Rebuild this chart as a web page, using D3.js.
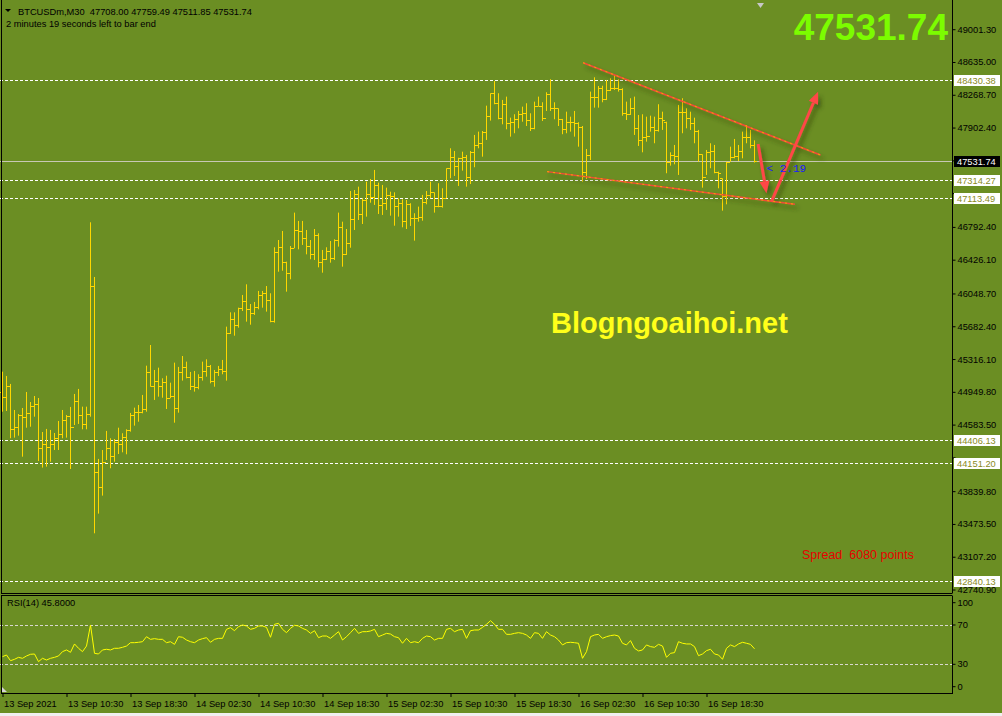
<!DOCTYPE html>
<html>
<head>
<meta charset="utf-8">
<script src="https://cdn.jsdelivr.net/npm/d3@7"></script>
<style>
html, body { margin: 0; padding: 0; background: #6b8e23; overflow: hidden; }
text { font-family: "Liberation Sans", Arial, sans-serif; }
</style>
</head>
<body>
<div id="chart"></div>
<script>
// BTCUSDm M30 bars (first bar = 13 Sep 2021 02:30)
var barOpen = [
44950,44896,45012,44531,44554,44691,44665,44710,44788,44811,
44319,44364,44337,44364,44431,44476,44635,44676,44554,44851,
44691,44587,44702,46136,44058,43884,44169,44319,44236,44393,
44364,44442,44520,44688,44721,44721,44755,45168,45019,45075,
45012,45057,44878,44907,44766,45168,45224,45119,45015,45007,
45119,45183,45239,45068,45175,45202,45183,45604,45760,45700,
45883,45962,45872,45827,45901,46032,46051,45976,45745,46516,
46572,46397,46281,46554,46758,46747,46665,46579,46486,46702,
46404,46431,46524,46449,46646,46795,46486,46609,46878,47157,
46937,47093,47157,47131,47261,47038,47057,47150,47142,47030,
47057,46859,47049,46889,46896,46907,47068,47150,47179,47030,
47026,47112,47448,47577,47473,47559,47577,47354,47633,47708,
47727,47850,48035,48286,48174,48006,48163,47957,47962,47995,
48051,48062,47987,47901,48140,48147,48006,48274,48118,48118,
47995,47883,47968,47968,47950,47913,47410,47596,48248,48248,
48341,48222,48323,48348,48341,48330,48069,48051,48118,47894,
47764,47801,47808,47913,47876,48006,47968,47521,47596,47588,
48080,48080,48013,47950,47868,47604,47354,47626,47641,47403,
47336,47142,47521,47577,47588,47641,47801,47801,47708.00];

var barHigh = [
45175,45127,45038,44747,44702,44769,44948,44836,44903,44881,
44501,44535,44524,44490,44624,44747,44691,44781,44926,44982,
44784,44784,46844,46233,44200,44300,44513,44431,44423,44549,
44487,44531,44714,44773,44803,44915,45242,45473,45194,45220,
45101,45130,45052,45276,45228,45350,45287,45172,45183,45146,
45287,45313,45250,45194,45239,45306,45678,45838,45838,45890,
46032,46151,45931,45954,46077,46077,46132,46051,46565,46646,
46747,46404,46579,46952,46859,46859,46758,46646,46769,46721,
46535,46565,46635,46654,46952,46851,46769,47194,47205,47242,
47112,47298,47328,47429,47287,47261,47231,47186,47179,47112,
47101,47093,47057,46945,47019,47150,47194,47298,47179,47280,
47224,47448,47671,47641,47565,47633,47596,47641,47820,47857,
47864,48147,48286,48423,48286,48211,48248,48013,48051,48088,
48136,48174,48062,48192,48248,48185,48297,48442,48185,48118,
47999,48080,48024,48088,47962,47920,47663,48304,48464,48367,
48370,48434,48453,48490,48442,48341,48192,48230,48248,48043,
48051,48024,48035,48024,48163,48080,47968,47626,47708,48155,
48230,48118,48080,48013,47876,47604,47652,47727,47708,47410,
47336,47521,47689,47775,47708,47857,47931,47876,47759.49];

var barLow = [
44728,44736,44431,44438,44460,44225,44549,44560,44672,44177,
44103,44114,44169,44300,44300,44431,44438,44088,44579,44591,
44531,44531,44672,43369,43589,43790,44188,44096,44169,44255,
44274,44252,44505,44572,44616,44710,44728,45007,44859,44896,
44884,44758,44878,44605,44717,45075,45101,44970,44952,44978,
45075,45119,45045,45007,45127,45146,45075,45596,45577,45667,
45853,45734,45700,45809,45872,45890,45846,45727,45723,46292,
46303,46069,46207,46554,46542,46591,46486,46431,46423,46341,
46281,46423,46393,46423,46572,46348,46479,46560,46758,46870,
46825,46907,47063,47038,46937,46926,46982,46918,46806,46907,
46788,46769,46803,46639,46851,46862,47045,47112,46952,47012,
47008,47112,47336,47362,47250,47421,47242,47272,47459,47671,
47577,47764,47980,48163,47995,47939,47883,47801,47839,47894,
47968,47920,47864,47883,48136,47976,48088,48088,47995,47920,
47828,47839,47857,47801,47689,47298,47328,47540,48125,48125,
48185,48210,48311,48323,48304,48035,47987,48043,47820,47697,
47626,47745,47857,47727,47857,47876,47392,47477,47492,47373,
47839,47894,47876,47727,47521,47231,47373,47448,47392,47224,
46974,47045,47521,47559,47529,47559,47727,47671,47511.85];

var barClose = [
44896,45012,44531,44554,44691,44665,44710,44788,44811,44319,
44364,44337,44364,44431,44476,44635,44676,44554,44851,44691,
44587,44702,46136,44058,43884,44169,44319,44236,44393,44364,
44442,44520,44688,44721,44721,44755,45168,45019,45075,45012,
45057,44878,44907,44766,45168,45224,45119,45015,45007,45119,
45183,45239,45068,45175,45202,45183,45604,45760,45700,45883,
45962,45872,45827,45901,46032,46051,45976,45745,46516,46572,
46397,46281,46554,46758,46747,46665,46579,46486,46702,46404,
46431,46524,46449,46646,46795,46486,46609,46878,47157,46937,
47093,47157,47131,47261,47038,47057,47150,47142,47030,47057,
46859,47049,46889,46896,46907,47068,47150,47179,47030,47026,
47112,47448,47577,47473,47559,47577,47354,47633,47708,47727,
47850,48035,48286,48174,48006,48163,47957,47962,47995,48051,
48062,47987,47901,48140,48147,48006,48274,48118,48118,47995,
47883,47968,47968,47950,47913,47410,47596,48248,48248,48341,
48222,48323,48348,48341,48330,48069,48051,48118,47894,47764,
47801,47808,47913,47876,48006,47987,47521,47596,47588,48080,
48080,48013,47950,47868,47604,47354,47626,47641,47403,47392,
47142,47514,47577,47588,47641,47801,47801,47708,47531.74];

// RSI(14) per bar
var rsiValues = [
37.8,39.5,33.7,35.1,37.1,36.1,38.5,40.2,40.5,32.7,
36.1,34.4,36.1,37.1,38.5,42.9,44.6,42.2,50.7,46.3,
42.9,48.6,70.0,41.2,40.5,44.6,45.3,44.6,46.3,46.3,
47.3,48.6,52.0,52.0,52.4,53.0,58.1,55.4,56.1,55.4,
55.4,52.0,53.0,50.3,58.1,57.5,54.7,53.0,52.0,54.7,
56.1,57.1,52.4,55.4,56.4,56.4,65.6,67.3,64.2,68.3,
70.0,69.0,65.6,66.6,69.0,69.0,67.6,57.5,70.7,71.7,
65.6,62.2,66.6,69.7,69.0,66.6,64.9,61.5,64.2,57.1,
58.8,58.8,56.4,59.8,63.2,54.7,58.1,62.2,66.6,61.5,
63.2,63.2,63.9,65.6,58.1,59.8,61.5,60.8,58.1,57.1,
51.4,56.4,52.0,53.0,52.0,56.4,58.8,58.1,54.7,56.4,
56.4,65.6,66.6,63.2,64.9,65.6,56.4,64.2,64.9,64.9,
67.6,70.7,74.4,70.7,65.6,65.6,60.5,60.5,61.5,62.2,
61.5,59.8,56.4,62.2,61.5,56.4,63.2,59.8,58.1,54.7,
49.7,52.0,52.4,52.0,51.4,36.1,42.9,58.1,59.8,60.5,
56.4,58.1,59.2,59.8,58.8,51.4,49.7,54.1,46.3,43.6,
44.6,49.7,48.0,47.3,50.3,48.6,37.1,41.2,41.9,53.0,
51.4,50.7,50.7,48.0,38.8,40.5,43.9,45.3,40.5,39.5,
35.1,46.3,49.7,48.0,50.7,52.4,51.4,50.3,45.8];

var priceTicks = ["49001.30","48635.00","48268.70","47902.40","47536.10","47169.80",
  "46792.40","46426.10","46048.70","45682.40","45316.10","44949.80","44583.50",
  "44217.20","43839.80","43473.50","43107.20","42740.90"];
// tick labels that sit under a price box in the reference
var coveredTicks = ["47536.10","47169.80","44217.20"];
var levels = [48430.38, 47314.27, 47113.49, 44406.13, 44151.20, 42840.13];
var lastPrice = 47531.74;
var rsiTicks = [100, 70, 30, 0];
var rsiLevels = [70, 30];
var timeLabels = ["13 Sep 2021","13 Sep 10:30","13 Sep 18:30","14 Sep 02:30","14 Sep 10:30",
  "14 Sep 18:30","15 Sep 02:30","15 Sep 10:30","15 Sep 18:30","16 Sep 02:30",
  "16 Sep 10:30","16 Sep 18:30"];

// trendlines / arrows drawn on the chart, in [bar index, price]
var trendLines = [
  [[145.15, 48627], [204.5, 47596]],
  [[136.15, 47410], [198.1, 47045]]
];
var arrows = [
  [[188.9, 47719], [191.0, 47168]],
  [[192.25, 47074], [203.9, 48303]]
];

var W = 1002, H = 716;
var axisX = 952, mainBottom = 593;

var svg = d3.select("#chart").append("svg")
  .attr("width", W).attr("height", H);

var defs = svg.append("defs");
var shadow = defs.append("filter").attr("id", "shadow")
  .attr("x", "-20%").attr("y", "-20%").attr("width", "140%").attr("height", "140%");
shadow.append("feDropShadow").attr("dx", 3).attr("dy", 4).attr("stdDeviation", 2)
  .attr("flood-color", "#2c3a0c").attr("flood-opacity", 0.6);
defs.append("clipPath").attr("id", "clipMain").append("rect")
  .attr("x", 0).attr("y", 0).attr("width", axisX).attr("height", mainBottom);
defs.append("clipPath").attr("id", "clipRsi").append("rect")
  .attr("x", 0).attr("y", 596).attr("width", axisX).attr("height", 97);

svg.append("rect").attr("width", W).attr("height", H).attr("fill", "#6b8e23");
svg.append("rect").attr("x", 0).attr("y", 713).attr("width", W).attr("height", 3).attr("fill", "#f0f0f0");

// scales
var barTime = barClose.map(function(d, i) {
  return d3.timeMinute.offset(new Date(2021, 8, 13, 2, 30), 30 * i);
});
var x = d3.scaleLinear().domain([0, 237.5]).range([2.5, 952.5]);
var y = d3.scaleLinear().domain([42702, 49327.6]).range([mainBottom, 0]);
var yr = d3.scaleLinear().domain([0, 100]).range([693.8, 595.5]);

var main = svg.append("g").attr("clip-path", "url(#clipMain)");

// horizontal levels
main.selectAll(".level").data(levels).enter().append("line")
  .attr("x1", 0).attr("x2", axisX)
  .attr("y1", function(d) { return Math.round(y(d)) + 0.5; })
  .attr("y2", function(d) { return Math.round(y(d)) + 0.5; })
  .attr("stroke", "#fff").attr("stroke-dasharray", "3,2");

main.append("line")
  .attr("x1", 0).attr("x2", axisX)
  .attr("y1", Math.round(y(lastPrice)) + 0.5).attr("y2", Math.round(y(lastPrice)) + 0.5)
  .attr("stroke", "#c8c8b4");

// OHLC bars
var bars = main.selectAll(".bar").data(barClose).enter().append("g").attr("class", "bar");
bars.append("rect")
  .attr("x", function(d, i) { return x(i) - 0.5; })
  .attr("y", function(d, i) { return y(barHigh[i]); })
  .attr("width", 1)
  .attr("height", function(d, i) { return Math.max(1, y(barLow[i]) - y(barHigh[i])); })
  .attr("fill", "#ffd700");
bars.append("rect")
  .attr("x", function(d, i) { return x(i) - 2.5; })
  .attr("y", function(d, i) { return Math.round(y(barOpen[i])); })
  .attr("width", 2).attr("height", 1).attr("fill", "#ffd700");
bars.append("rect")
  .attr("x", function(d, i) { return x(i) + 0.5; })
  .attr("y", function(d, i) { return Math.round(y(d)); })
  .attr("width", 2).attr("height", 1).attr("fill", "#ffd700");

// trendlines and arrows
var ann = svg.append("g").attr("filter", "url(#shadow)");
trendLines.forEach(function(t) {
  ann.append("line")
    .attr("x1", x(t[0][0])).attr("y1", y(t[0][1]))
    .attr("x2", x(t[1][0])).attr("y2", y(t[1][1]))
    .attr("stroke", "#f24a3a").attr("stroke-width", 1.5);
  ann.append("line")
    .attr("x1", x(t[0][0])).attr("y1", y(t[0][1]))
    .attr("x2", x(t[1][0])).attr("y2", y(t[1][1]))
    .attr("stroke", "#ffa400").attr("stroke-width", 1).attr("stroke-dasharray", "2,4");
});
arrows.forEach(function(a) {
  var x1 = x(a[0][0]), y1 = y(a[0][1]), x2 = x(a[1][0]), y2 = y(a[1][1]);
  var ang = Math.atan2(y2 - y1, x2 - x1), len = 12, hw = 5;
  var bx = x2 - len * Math.cos(ang), by = y2 - len * Math.sin(ang);
  ann.append("line")
    .attr("x1", x1).attr("y1", y1).attr("x2", bx).attr("y2", by)
    .attr("stroke", "#ff4646").attr("stroke-width", 3);
  ann.append("path")
    .attr("d", "M" + x2 + "," + y2 +
      "L" + (bx + hw * Math.sin(ang)) + "," + (by - hw * Math.cos(ang)) +
      "L" + (bx - hw * Math.sin(ang)) + "," + (by + hw * Math.cos(ang)) + "Z")
    .attr("fill", "#ff4646");
});

svg.append("text").attr("x", 766.5).attr("y", 171.5)
  .style("font-family", "'Liberation Mono', 'DejaVu Sans Mono', monospace")
  .style("font-size", "11px").attr("fill", "#1a1aff").text("< 2.19");

// RSI panel
var rsi = svg.append("g").attr("clip-path", "url(#clipRsi)");
rsi.selectAll(".rl").data(rsiLevels).enter().append("line")
  .attr("x1", 0).attr("x2", axisX)
  .attr("y1", function(d) { return Math.round(yr(d)) + 0.5; })
  .attr("y2", function(d) { return Math.round(yr(d)) + 0.5; })
  .attr("stroke", "#d8d8d0").attr("stroke-dasharray", "3,2");
rsi.append("path").datum(rsiValues)
  .attr("d", d3.line().x(function(d, i) { return x(i); }).y(function(d) { return yr(d); }))
  .attr("fill", "none").attr("stroke", "#ffff00").attr("stroke-width", 1);

// borders
var border = svg.append("g").attr("stroke", "#000").attr("fill", "none");
border.append("line").attr("x1", 1.5).attr("x2", 1.5).attr("y1", 0).attr("y2", 593);
border.append("line").attr("x1", 1.5).attr("x2", 1.5).attr("y1", 595.5).attr("y2", 693);
border.append("line").attr("x1", 1).attr("x2", axisX).attr("y1", 593.5).attr("y2", 593.5);
border.append("line").attr("x1", 1).attr("x2", axisX).attr("y1", 595.5).attr("y2", 595.5);
border.append("line").attr("x1", axisX + 0.5).attr("x2", axisX + 0.5).attr("y1", 595.5).attr("y2", 693);
svg.append("path").attr("d", "M2,692 L2,687 L7,692 Z").attr("fill", "#d6d6d6");

// price axis
var fontSize = "9.3px";
var pAxis = svg.append("g").attr("transform", "translate(" + (axisX + 0.5) + ",0)")
  .attr("color", "#000")
  .call(d3.axisRight(y).tickValues(priceTicks.map(Number)).tickSize(3).tickSizeOuter(0)
    .tickFormat(function(d) {
      var s = d3.format(".2f")(d);
      return coveredTicks.indexOf(s) >= 0 ? "" : s;
    }));
pAxis.select(".domain").attr("d", "M0,0V" + (mainBottom + 0.5));
pAxis.selectAll("text").style("font-size", fontSize).attr("x", 5);

// RSI axis
var rAxis = svg.append("g").attr("transform", "translate(" + (axisX + 0.5) + ",0)")
  .attr("color", "#000")
  .call(d3.axisRight(yr).tickValues(rsiTicks).tickSize(3).tickSizeOuter(0));
rAxis.select(".domain").remove();
rAxis.selectAll(".tick").attr("transform", function(d) {
  return "translate(0," + Math.min(686.7, Math.max(602.7, yr(d))) + ")";
});
rAxis.selectAll("text").style("font-size", fontSize).attr("x", 5);

// level price boxes
var lb = svg.selectAll(".lbox").data(levels).enter().append("g")
  .attr("transform", function(d) { return "translate(954," + Math.round(y(d)) + ")"; });
lb.append("rect").attr("x", 0).attr("y", -5).attr("width", 46).attr("height", 11).attr("fill", "#fff");
lb.append("text").attr("x", 3).attr("y", 3.5).style("font-size", fontSize)
  .attr("fill", "#8a8a1e").text(function(d) { return d3.format(".2f")(d); });
var cur = svg.append("g").attr("transform", "translate(954," + Math.round(y(lastPrice)) + ")");
cur.append("rect").attr("x", 0).attr("y", -5).attr("width", 46).attr("height", 11).attr("fill", "#000");
cur.append("text").attr("x", 3).attr("y", 3.5).style("font-size", fontSize)
  .attr("fill", "#fff").text(d3.format(".2f")(lastPrice));

// time axis
var fmt = d3.timeFormat("%d %b %H:%M");
var tickIdx = timeLabels.map(function(l, k) {
  if (k === 0) return 0;
  return barTime.findIndex(function(t) { return fmt(t) === l; });
});
var tAxis = svg.append("g").attr("transform", "translate(0,693)")
  .attr("color", "#000")
  .call(d3.axisBottom(x).tickValues(tickIdx).tickSize(4).tickSizeOuter(0)
    .tickFormat(function(d, k) { return timeLabels[k]; }));
tAxis.select(".domain").attr("d", "M1,0.5H" + (axisX + 1));
tAxis.selectAll("text").style("font-size", fontSize).attr("text-anchor", "start").attr("dx", 1);

// header texts
svg.append("path").attr("d", "M5,9 L11,9 L8,12 Z").attr("fill", "#000");
svg.append("text").attr("x", 18).attr("y", 15).style("font-size", fontSize)
  .style("white-space", "pre").attr("fill", "#000")
  .text("BTCUSDm,M30  " + [barOpen[barOpen.length - 1], barHigh[barHigh.length - 1],
    barLow[barLow.length - 1], barClose[barClose.length - 1]].map(d3.format(".2f")).join(" "));
svg.append("text").attr("x", 6).attr("y", 27).style("font-size", fontSize)
  .attr("fill", "#000").text("2 minutes 19 seconds left to bar end");
svg.append("path").attr("d", "M757,3 L764,3 L760.5,8 Z").attr("fill", "#c8c8c8");

svg.append("text").attr("x", 948).attr("y", 40).attr("text-anchor", "end")
  .style("font-size", "37px").style("font-weight", "bold").attr("fill", "#7cfc00")
  .text(d3.format(".2f")(lastPrice));

svg.append("text").attr("x", 551).attr("y", 333)
  .style("font-size", "29px").style("font-weight", "bold").attr("fill", "#ffff1a")
  .text("Blogngoaihoi.net");

svg.append("text").attr("x", 802).attr("y", 559).style("font-size", "12.5px")
  .style("white-space", "pre").attr("fill", "#e80000").text("Spread  6080 points");

svg.append("text").attr("x", 7).attr("y", 606).style("font-size", fontSize)
  .attr("fill", "#000").text("RSI(14) " + d3.format(".4f")(rsiValues[rsiValues.length - 1]));
</script>
</body>
</html>
